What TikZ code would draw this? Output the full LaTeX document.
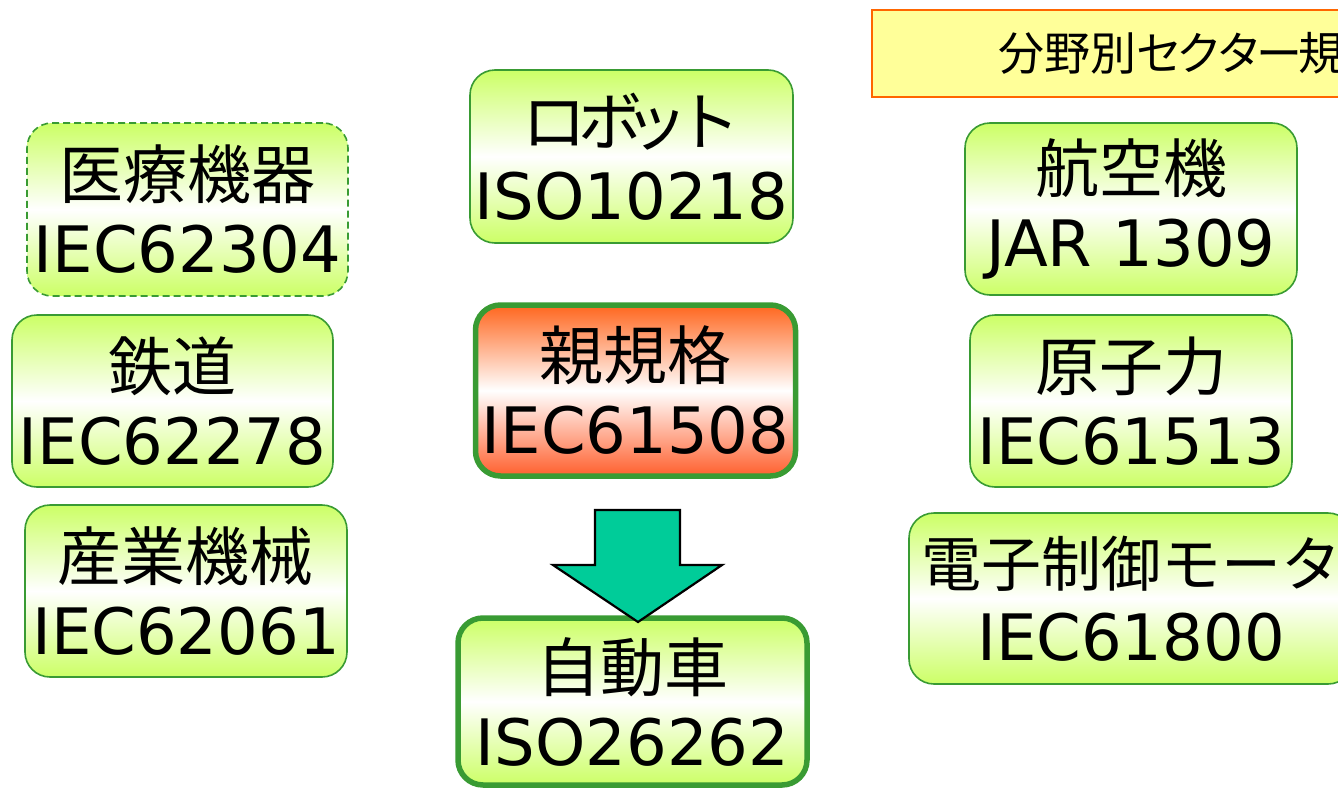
\documentclass[tikz,border=0pt]{standalone}
\usepackage{fontspec}
\setmainfont{DejaVu Sans}
\newfontfamily\jp{Noto Sans CJK JP}
\definecolor{gline}{RGB}{57,155,51}
\definecolor{gfill}{RGB}{204,255,102}
\definecolor{rtop}{RGB}{255,102,30}
\definecolor{rbot}{RGB}{255,95,45}
\definecolor{arrowfill}{RGB}{0,204,153}
\definecolor{lblfill}{RGB}{255,255,153}
\definecolor{lblline}{RGB}{255,102,0}
\tikzset{
  gbox/.style={draw=gline, line width=1.6pt, rounded corners=25pt,
    top color=gfill, bottom color=gfill, middle color=white,
    align=center, inner sep=0pt, font=\fontsize{64}{74}\selectfont},
  thickbox/.style={line width=5.5pt},
  redbox/.style={top color=rtop, bottom color=rbot, middle color=white},
  dashbox/.style={dash pattern=on 7pt off 4pt},
  lblbox/.style={draw=lblline, line width=1.6pt, fill=lblfill, inner ysep=0pt,
    inner xsep=126pt, text width=528pt, align=left,
    font=\fontsize{46}{54}\selectfont\jp},
  blockarrow/.style={draw=black, line width=2.2pt, fill=arrowfill, line join=miter}
}
\begin{document}
\begin{tikzpicture}[x=1pt,y=-1pt]
\useasboundingbox (0,0) rectangle (1338,787);
\clip (0,0) rectangle (1338,787);
% label
\node[lblbox, minimum height=87pt] (lbl) at (1262,53.5) {\raisebox{5pt}{分野別セ\kern-6pt ク\kern-6pt タ\kern-6pt ー\kern-4pt 規格}};
% left column
\node[gbox, dashbox, minimum width=321pt, minimum height=173pt] (med) at (187.5,209.5) {{\jp 医療機器}\\IEC62304};
\node[gbox, minimum width=321pt, minimum height=172pt] (rail) at (172.5,401) {{\jp 鉄道}\\IEC62278};
\node[gbox, minimum width=322pt, minimum height=172pt] (ind) at (186,591) {{\jp 産業機械}\\IEC62061};
% middle column
\node[gbox, minimum width=323pt, minimum height=173pt] (robot) at (631.5,156.5) {{\jp ロ\kern-8pt ボ\kern-18pt ッ\kern-12pt ト}\\ISO10218};
\node[gbox, thickbox, redbox, minimum width=320pt, minimum height=171pt] (parent) at (635.5,390.5) {{\jp 親規格}\\IEC61508};
\node[gbox, thickbox, minimum width=349pt, minimum height=167pt] (auto) at (632.5,701.5) {{\jp 自動車}\\ISO26262};
% right column
\node[gbox, minimum width=332pt, minimum height=172pt] (aero) at (1131,209) {{\jp 航空機}\\JAR 1309};
\node[gbox, minimum width=322pt, minimum height=172pt] (nuc) at (1131,401) {{\jp 原子力}\\IEC61513};
\node[gbox, minimum width=444pt, minimum height=171pt] (motor) at (1131,598.5) {{\jp\fontsize{60}{74}\selectfont 電子制御モータ}\\IEC61800};
% block arrow from parent to auto
\draw[blockarrow] (595,510) -- (680,510) -- (680,565) -- (722,565) -- (638,622) -- (553,565) -- (595,565) -- cycle;
\end{tikzpicture}
\end{document}
